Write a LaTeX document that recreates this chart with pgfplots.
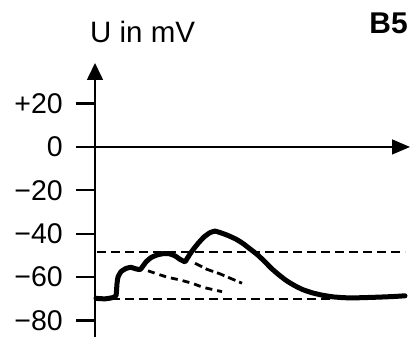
\documentclass[border=0pt]{standalone}
\usepackage{pgfplots}
\pgfplotsset{compat=1.18}
\usepackage{fontspec}
\setmainfont{Liberation Sans}
\usetikzlibrary{arrows.meta}
\begin{document}
\begin{tikzpicture}
\path[use as bounding box, fill=white] (0pt,0pt) rectangle (419pt,-341pt);
\begin{axis}[
  at={(95pt,-337pt)}, anchor=south west,
  scale only axis, width=315pt, height=274pt,
  xmin=95, xmax=410, ymin=-87.6, ymax=38.7,
  axis y line=left, axis x line=middle,
  x axis line style={line width=1.3pt, -{Triangle[length=18pt,width=15pt]}},
  y axis line style={line width=1.6pt, -{Triangle[length=17pt,width=16pt]}},
  xtick=\empty,
  ytick={-80,-60,-40,-20,0,20},
  yticklabels={−80,−60,−40,−20,0,+20},
  major tick length=0pt,
  yticklabel style={anchor=east, inner sep=0pt, xshift=-32pt, font=\fontsize{28.5}{28.5}\selectfont},
  clip=false,
]
\draw[draw=black, line width=2.2pt] (axis cs:95,-80) -- (axis cs:76,-80);
\draw[draw=black, line width=2.2pt] (axis cs:95,-60) -- (axis cs:76,-60);
\draw[draw=black, line width=2.2pt] (axis cs:95,-40) -- (axis cs:76,-40);
\draw[draw=black, line width=2.2pt] (axis cs:95,-20) -- (axis cs:76,-20);
\draw[draw=black, line width=2.2pt] (axis cs:95,0) -- (axis cs:76,0);
\draw[draw=black, line width=2.2pt] (axis cs:95,20) -- (axis cs:76,20);
% threshold and resting levels
\addplot[black, line width=1.5pt, dash pattern=on 9pt off 5pt] coordinates {(97,-48.5) (405,-48.5)};
\addplot[black, line width=1.5pt, dash pattern=on 9pt off 5pt] coordinates {(97,-70) (330,-70)};
% decay lines
\addplot[black, line width=2.8pt, dash pattern=on 7pt off 5pt] coordinates {(148,-57.1) (167,-60) (180,-61.3) (192,-62.8) (203,-64.7) (222,-66.7)};
\addplot[black, line width=2.8pt, dash pattern=on 8pt off 4pt] coordinates {(195,-53.6) (207,-56.4) (220,-58.5) (242,-62.8)};
% membrane potential
\addplot[black, line width=5pt, line join=round, line cap=round, smooth, tension=0.3] coordinates {
(96,-69.8) (105,-70) (112,-69.5) (116,-68.5) (117,-63) (118,-60) (121,-57.5) (126,-56) (131,-55.5) (136,-56.2) (140,-56.5) (142,-55.5) (146,-53) (151,-51) (157,-49.8) (163,-49.2) (169,-49.2) (175,-50.2) (180,-51.8) (185,-52.9) (187,-51.5) (192,-48) (198,-44.5) (204,-41.5) (210,-39.5) (215,-38.8) (221,-39.6) (228,-40.8) (236,-42.5) (243,-44.5) (250,-47) (257,-49.5) (264,-52.5) (271,-55.8) (279,-59) (287,-61.8) (295,-64) (303,-65.8) (312,-67.2) (322,-68.3) (333,-69.1) (345,-69.5) (360,-69.5) (380,-69.2) (395,-68.9) (405,-68.6)};
\end{axis}
\node[anchor=base west, inner sep=0pt] at (90pt,-42pt) {\fontsize{29.5}{30}\selectfont U in mV};
\node[anchor=base east, inner sep=0pt] at (408pt,-33pt) {\fontsize{30}{30}\selectfont\bfseries B5};
\end{tikzpicture}
\end{document}
